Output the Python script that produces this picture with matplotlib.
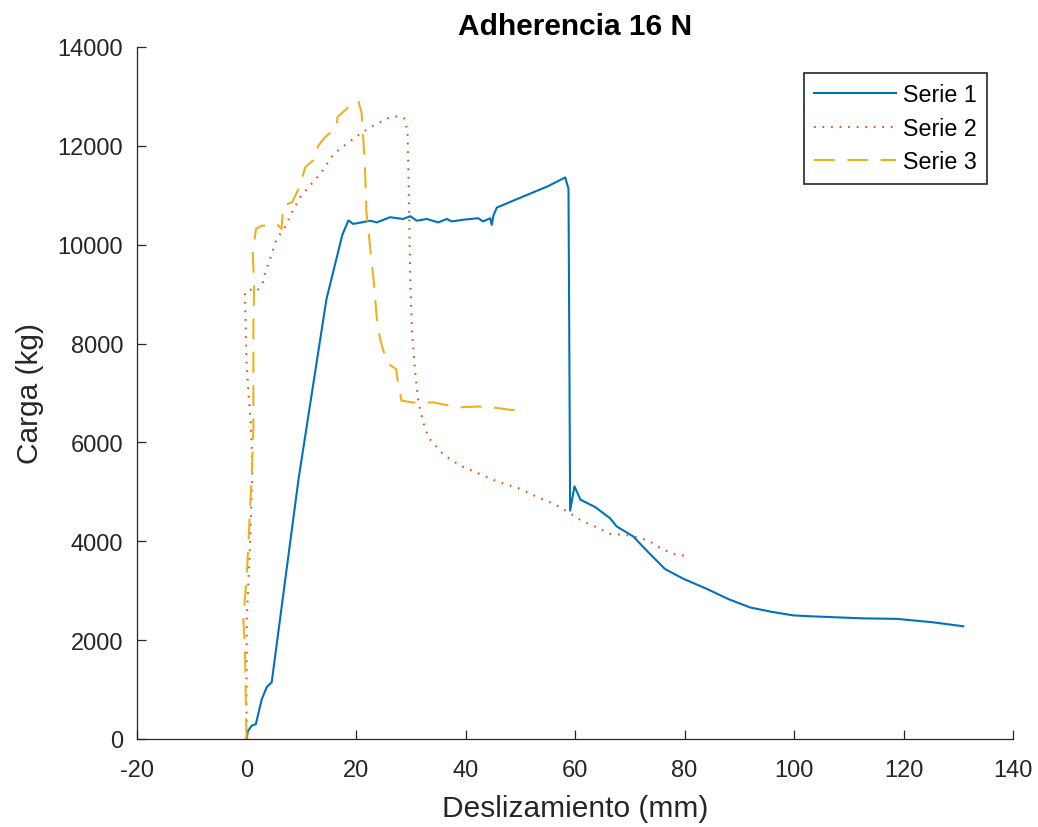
import matplotlib.pyplot as plt

plt.rcParams['font.family'] = ['Liberation Sans', 'DejaVu Sans']
plt.rcParams['axes.unicode_minus'] = False

# Serie 1
x1 = [0.0, 0.2, 0.95, 1.7, 2.8, 3.7, 4.6, 9.5, 14.6, 17.5, 18.6, 19.5, 21.0, 22.6, 23.8,
      26.2, 28.6, 29.9, 31.1, 32.9, 35.0, 36.6, 37.5, 39.6, 42.3, 43.2, 44.5, 44.8, 45.1,
      45.7, 50.0, 55.0, 58.2, 58.8, 58.95, 59.1, 59.9, 61.0, 63.7, 66.4, 67.6, 70.6, 73.1,
      76.4, 79.8, 84.1, 88.0, 92.0, 96.0, 99.9, 103.5, 108.0, 112.7, 118.8, 125.4, 130.9]
y1 = [0, 150, 270, 300, 810, 1050, 1150, 5260, 8900, 10200, 10490, 10420, 10450, 10485, 10450,
      10555, 10520, 10575, 10485, 10520, 10450, 10520, 10470, 10505, 10535, 10470, 10535, 10400, 10590,
      10750, 10950, 11180, 11360, 11130, 8000, 4620, 5110, 4840, 4690, 4465, 4300, 4100, 3810,
      3440, 3240, 3035, 2830, 2660, 2570, 2500, 2480, 2460, 2440, 2430, 2360, 2280]

# Serie 2
x2 = [0.0, 0.0, 0.04, 0.64, 1.07, 0.95, 0.76, 0.33, 0.0, -0.3, 1.0, 2.0, 3.0, 3.4, 4.3,
      5.5, 7.0, 8.3, 9.8, 11.6, 13.7, 15.9, 18.3, 20.7, 23.2, 26.2, 28.0, 28.9, 29.4,
      29.6, 29.9, 30.2, 30.8, 31.4, 32.3, 33.2, 36.0, 39.0, 42.6, 46.0, 50.0, 53.6, 56.3,
      58.8, 61.2, 64.0, 66.4, 69.1, 70.6, 73.4, 75.8, 78.6, 79.9]
y2 = [0, 1210, 2430, 3910, 5400, 5930, 6410, 7050, 7620, 9040, 9100, 9070, 9240, 9440, 9710,
      10115, 10350, 10655, 10960, 11195, 11465, 11835, 12040, 12240, 12410, 12580, 12600, 12545, 12275,
      11330, 9300, 8295, 7420, 6810, 6400, 6100, 5750, 5530, 5360, 5200, 5060, 4870, 4750,
      4585, 4415, 4280, 4150, 4130, 4100, 4015, 3845, 3720, 3710]

# Serie 3
x3 = [0.0, -0.3, -0.6, 0.0, 0.33, 0.64, 0.95, 1.25, 1.25, 1.25, 1.4, 1.13, 1.73, 2.8, 4.3,
      5.5, 6.4, 6.7, 8.3, 9.8, 10.7, 12.5, 13.1, 14.3, 16.5, 16.6, 18.6, 20.4, 21.0,
      21.6, 21.9, 23.2, 23.8, 24.4, 25.0, 25.9, 27.3, 27.7, 28.3, 30.2, 32.0, 34.1, 36.3,
      39.0, 42.3, 44.8, 48.1, 50.7]
y3 = [0, 1890, 2430, 3240, 3910, 4650, 5330, 6270, 7620, 8435, 9170, 9845, 10320, 10385, 10385,
      10420, 10320, 10790, 10855, 11195, 11565, 11735, 12000, 12170, 12375, 12580, 12780, 12915, 12680,
      11665, 10655, 9300, 8500, 8090, 7855, 7590, 7485, 7180, 6845, 6810, 6800, 6810, 6760,
      6710, 6725, 6710, 6660, 6640]

fig = plt.figure(figsize=(10.38, 8.28), dpi=100)
ax = fig.add_axes([0.132, 0.1063, 0.844, 0.8358])

ax.plot(x1, y1, color='#0072BD', lw=1.5, label='Serie 1')
ax.plot(x2, y2, color='#D95319', lw=1.5, linestyle=(0, (0.8, 3.3)), label='Serie 2')
ax.plot(x3, y3, color='#EDB120', lw=1.5, linestyle=(0, (10, 6)), label='Serie 3')

ax.set_xlim(-20, 140)
ax.set_ylim(0, 14000)
ax.set_xticks(range(-20, 141, 20))
ax.set_yticks(range(0, 14001, 2000))

ax.spines['top'].set_visible(False)
ax.spines['right'].set_visible(False)
for s in ['left', 'bottom']:
    ax.spines[s].set_color('#262626')
    ax.spines[s].set_linewidth(0.9)
ax.tick_params(direction='in', length=6.3, width=0.9, colors='#262626',
               labelsize=17, labelcolor='#262626')
ax.tick_params(axis='y', pad=10)
ax.tick_params(axis='x', pad=14.5)

ax.set_xlabel('Deslizamiento (mm)', fontsize=21.5, color='#262626', labelpad=9)
ax.set_ylabel('Carga (kg)', fontsize=21.5, color='#262626', labelpad=10)
ax.set_title('Adherencia 16 N', fontsize=21.5, fontweight='bold', pad=9)

leg = ax.legend(loc='upper right', bbox_to_anchor=(0.970, 0.9624), fontsize=16.75,
                fancybox=False, framealpha=1, edgecolor='#262626', borderaxespad=0,
                handlelength=3.5, handletextpad=0.3, borderpad=0.45, labelspacing=0.45)
leg.get_frame().set_linewidth(1.2)

fig.savefig('out.png', dpi=100)
